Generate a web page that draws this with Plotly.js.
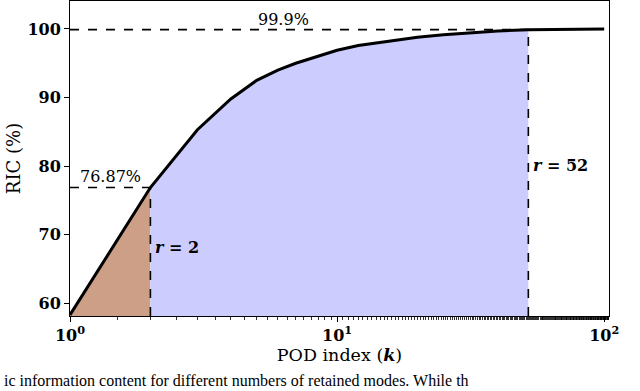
<!DOCTYPE html>
<html>
<head>
<meta charset="utf-8">
<script src="https://cdn.plot.ly/plotly-3.0.1.min.js"></script>
<style>html,body{margin:0;padding:0;background:#fff;overflow:hidden}#chart{width:640px;height:391px}</style>
</head>
<body>
<div id="chart"></div>
<script>
// POD index k and relative information content (%)
const podIndex = [1, 2, 3, 4, 5, 6, 7, 8, 9, 10, 12, 15, 20, 25, 30, 40, 52, 60, 70, 80, 100];
const ricValues = [58.3, 76.87, 85.3, 89.8, 92.5, 94.0, 95.0, 95.7, 96.3, 96.9, 97.6, 98.15, 98.8, 99.15, 99.4, 99.7, 99.9, 99.93, 99.96, 99.98, 100.0];
const rSmall = 2, ricSmall = 76.87;
const rLarge = 52, ricLarge = 99.9;
const xTickVals = [1, 10, 100];
const xTickText = ['10<sup>0</sup>', '10<sup>1</sup>', '10<sup>2</sup>'];
const yTickVals = [60, 70, 80, 90, 100];
const yBottom = 58.14;

const brownX = [], brownY = [], blueX = [], blueY = [];
podIndex.forEach((k, i) => {
  if (k <= rSmall) { brownX.push(k); brownY.push(ricValues[i]); }
  if (k >= rSmall && k <= rLarge) { blueX.push(k); blueY.push(ricValues[i]); }
});

const serif = '"DejaVu Serif", serif';
const font = {family: serif, size: 15, color: '#000'};
const dash = {color: '#000', width: 1.6, dash: 'dash'};

const traces = [
  {x: brownX, y: brownY, mode: 'none', fill: 'tozeroy', fillcolor: '#cc9f86', hoverinfo: 'skip'},
  {x: blueX, y: blueY, mode: 'none', fill: 'tozeroy', fillcolor: '#ccccff', hoverinfo: 'skip'},
  {x: [podIndex[0], rSmall], y: [ricSmall, ricSmall], mode: 'lines', line: dash},
  {x: [rSmall, rSmall], y: [yBottom, ricSmall], mode: 'lines', line: dash},
  {x: [podIndex[0], rLarge], y: [ricLarge, ricLarge], mode: 'lines', line: dash},
  {x: [rLarge, rLarge], y: [yBottom, ricLarge], mode: 'lines', line: dash},
  {x: podIndex, y: ricValues, mode: 'lines', line: {color: '#000', width: 3}}
];

const layout = {
  width: 640, height: 391,
  margin: {l: 70, r: 31, t: 1, b: 75},
  showlegend: false,
  paper_bgcolor: '#fff', plot_bgcolor: '#fff',
  font: font,
  xaxis: {
    type: 'log', range: [0, 2.018],
    tickvals: xTickVals, ticktext: xTickText,
    ticks: 'outside', ticklen: 5, tickwidth: 1, tickcolor: '#000',
    minor: {ticks: 'outside', ticklen: 3, tickcolor: '#000', tickwidth: 0.8, showgrid: false},
    showgrid: false, zeroline: false,
    showline: true, mirror: true, linecolor: '#000', linewidth: 1,
    tickfont: {family: serif, size: 16, color: '#000', weight: 'bold'},
    title: {text: 'POD index (<b><i>k</i></b>)', font: {family: serif, size: 17.5}, standoff: 4}
  },
  yaxis: {
    range: [yBottom, 104.08],
    tickvals: yTickVals,
    ticks: 'outside', ticklen: 5, tickwidth: 1, tickcolor: '#000',
    showgrid: false, zeroline: false,
    showline: true, mirror: true, linecolor: '#000', linewidth: 1,
    tickfont: {family: serif, size: 16, color: '#000', weight: 'bold'},
    title: {text: 'RIC (%)', font: {family: serif, size: 18}, standoff: 2}
  },
  annotations: [
    {x: 0.798, y: ricLarge, xref: 'x', yref: 'y', text: '99.9%', showarrow: false, yanchor: 'bottom', yshift: -1, font: {size: 16}},
    {x: 0.15, y: ricSmall, xref: 'x', yref: 'y', text: '76.87%', showarrow: false, yanchor: 'bottom', yshift: 0, font: {size: 16}},
    {x: Math.log10(rSmall), y: 68.1, xref: 'x', yref: 'y', text: '<b><i>r</i> = 2</b>', showarrow: false, xanchor: 'left', xshift: 3, font: {size: 16}},
    {x: Math.log10(rLarge), y: 80.05, xref: 'x', yref: 'y', text: '<b><i>r</i> = 52</b>', showarrow: false, xanchor: 'left', xshift: 3, font: {size: 16}},
    {x: 0, y: 0, xref: 'paper', yref: 'paper', xanchor: 'left', yanchor: 'bottom', xshift: -68, yshift: -75,
     text: 'ic information content for different numbers of retained modes. While th', showarrow: false,
     font: {family: '"Liberation Serif", serif', size: 16, color: '#000'}}
  ]
};

Plotly.newPlot('chart', traces, layout, {staticPlot: true, displayModeBar: false});
</script>
</body>
</html>
